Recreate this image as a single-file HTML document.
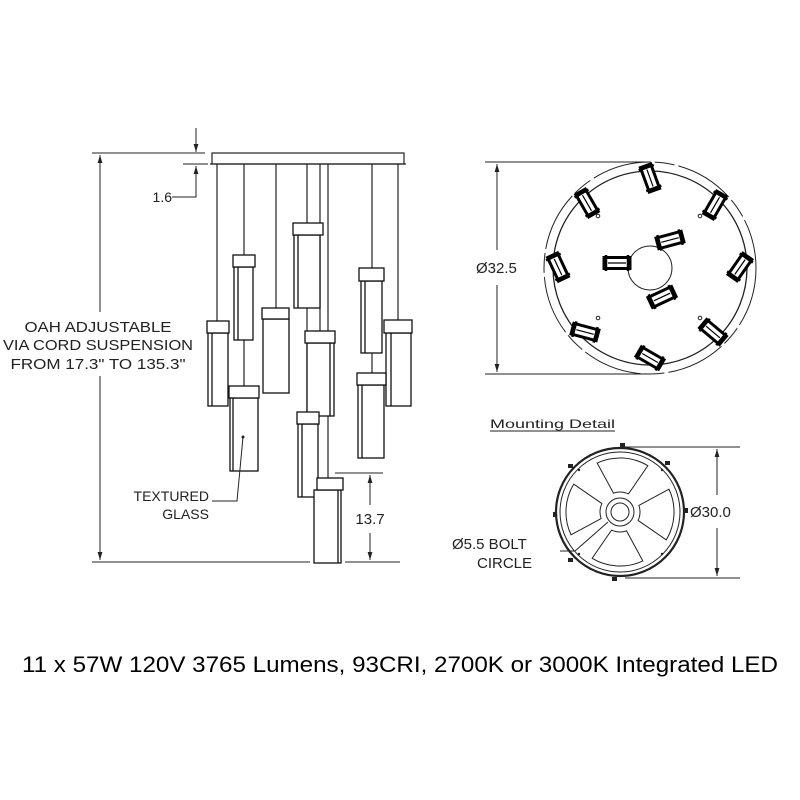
<!DOCTYPE html>
<html><head><meta charset="utf-8"><style>
html,body{margin:0;padding:0;background:#fff}
svg{display:block}
text{font-family:"Liberation Sans",sans-serif;fill:#222}
</style></head><body>
<svg width="800" height="800" viewBox="0 0 800 800" xmlns="http://www.w3.org/2000/svg">
<defs>
<marker id="a" viewBox="0 0 10 10" refX="10" refY="5" markerWidth="8" markerHeight="8" orient="auto-start-reverse"><path d="M0,2 L10,5 L0,8 z" fill="#222"/></marker>
<g id="fx"><rect x="-13" y="-5.5" width="26" height="11" fill="#fff" stroke="#000" stroke-width="3"/><line x1="-9" y1="0" x2="9" y2="0" stroke="#000" stroke-width="1.2"/><line x1="-11" y1="-8" x2="-11" y2="8" stroke="#000" stroke-width="2.5"/><line x1="11" y1="-8" x2="11" y2="8" stroke="#000" stroke-width="2.5"/></g>
<path id="bl" d="M612.5,493.5 L594.6,464.3 A54,54 0 0 1 645.4,464.3 L627.5,493.5 A20,20 0 0 0 612.5,493.5 z"/>
</defs>
<g stroke="#222" fill="none" stroke-width="1.2">
<rect x="212" y="153" width="192" height="11" fill="#fff"/>
<line x1="210" y1="164" x2="406" y2="164"/>
<line x1="217" y1="164" x2="217" y2="321"/>
<line x1="244" y1="164" x2="244" y2="386"/>
<line x1="276" y1="164" x2="276" y2="308"/>
<line x1="307" y1="164" x2="307" y2="412"/>
<line x1="320" y1="164" x2="320" y2="331"/>
<line x1="328" y1="164" x2="328" y2="478"/>
<line x1="372" y1="164" x2="372" y2="373"/>
<line x1="398" y1="164" x2="398" y2="320"/>
</g>
<g stroke="#111" fill="#fff" stroke-width="1.3">
<rect x="294" y="235" width="26" height="73"/><rect x="293" y="223" width="30" height="12"/><line x1="298" y1="235" x2="298" y2="308"/>
<rect x="234" y="267" width="19" height="73"/><rect x="233" y="255" width="22" height="12"/><line x1="238" y1="267" x2="238" y2="340"/>
<rect x="361" y="281" width="21" height="72"/><rect x="359" y="268" width="25" height="13"/><line x1="365" y1="281" x2="365" y2="353"/>
<rect x="208" y="333" width="20" height="73"/><rect x="207" y="321" width="22" height="12"/><line x1="212" y1="333" x2="212" y2="406"/>
<rect x="263" y="319" width="26" height="74"/><rect x="262" y="308" width="27" height="11"/>
<rect x="386" y="333" width="25" height="73"/><rect x="384" y="320" width="28" height="13"/><line x1="391" y1="333" x2="391" y2="406"/>
<rect x="307" y="343" width="27" height="73"/><rect x="305" y="331" width="30" height="12"/><line x1="330" y1="343" x2="330" y2="416"/>
<rect x="358" y="385" width="26" height="73"/><rect x="357" y="373" width="29" height="12"/><line x1="362" y1="385" x2="362" y2="458"/>
<rect x="230" y="398" width="28" height="73"/><rect x="229" y="386" width="30" height="12"/><line x1="233" y1="398" x2="233" y2="471"/>
<rect x="298" y="424" width="20" height="73"/><rect x="297" y="412" width="22" height="12"/><line x1="302" y1="424" x2="302" y2="497"/>
<rect x="314" y="490" width="27" height="73"/><rect x="317" y="478" width="26" height="12"/><line x1="338" y1="490" x2="338" y2="563"/>
</g>
<g stroke="#222" fill="none" stroke-width="1">
<line x1="92" y1="153" x2="205" y2="153"/>
<line x1="92" y1="562" x2="310" y2="562"/><line x1="345" y1="562" x2="400" y2="562"/>
<line x1="100" y1="155" x2="100" y2="312" marker-start="url(#a)"/>
<line x1="100" y1="376" x2="100" y2="560" marker-end="url(#a)"/>
<line x1="183" y1="164" x2="208" y2="164"/>
<line x1="196" y1="128" x2="196" y2="152" marker-end="url(#a)"/>
<line x1="196" y1="182" x2="196" y2="166" marker-end="url(#a)"/>
<polyline points="172,197 196,197 196,182"/>
<line x1="335" y1="473" x2="383" y2="473"/>
<line x1="370" y1="505" x2="370" y2="475" marker-end="url(#a)"/>
<line x1="370" y1="533" x2="370" y2="560" marker-end="url(#a)"/>
<polyline points="243,437 237,501 212,501"/>
<circle cx="243" cy="437" r="1" fill="#222"/>
</g>
<text x="172" y="202" font-size="14" text-anchor="end">1.6</text>
<text x="370" y="524" font-size="15" text-anchor="middle">13.7</text>
<text x="98" y="332" font-size="15" text-anchor="middle" textLength="147" lengthAdjust="spacingAndGlyphs">OAH ADJUSTABLE</text>
<text x="98" y="350" font-size="15" text-anchor="middle" textLength="190" lengthAdjust="spacingAndGlyphs">VIA CORD SUSPENSION</text>
<text x="98" y="369" font-size="15" text-anchor="middle" textLength="175" lengthAdjust="spacingAndGlyphs">FROM 17.3" TO 135.3"</text>
<text x="209" y="501" font-size="14" text-anchor="end">TEXTURED</text>
<text x="209" y="519" font-size="14" text-anchor="end">GLASS</text>

<g stroke="#222" fill="none" stroke-width="1">
<circle cx="650" cy="268" r="106" stroke-dasharray="60,4,20,4"/>
<circle cx="650" cy="268" r="97" stroke-width="1.3"/>
<circle cx="650" cy="268" r="22"/>
<line x1="485" y1="162" x2="650" y2="162"/>
<line x1="485" y1="374" x2="650" y2="374"/>
<line x1="497" y1="250" x2="497" y2="164" marker-end="url(#a)"/>
<line x1="497" y1="285" x2="497" y2="372" marker-end="url(#a)"/>
<circle cx="598" cy="216" r="1.8"/><circle cx="700" cy="216" r="1.8"/>
<circle cx="598" cy="318" r="1.8"/><circle cx="700" cy="318" r="1.8"/>
</g>
<text x="476" y="273" font-size="15">Ø32.5</text>
<use href="#fx" transform="translate(650,178) rotate(70)"/>
<use href="#fx" transform="translate(587,203) rotate(60)"/>
<use href="#fx" transform="translate(715,205) rotate(-60)"/>
<use href="#fx" transform="translate(558,267) rotate(65)"/>
<use href="#fx" transform="translate(740,267) rotate(-55)"/>
<use href="#fx" transform="translate(617,263) rotate(0)"/>
<use href="#fx" transform="translate(670,240) rotate(-15)"/>
<use href="#fx" transform="translate(662,297) rotate(-25)"/>
<use href="#fx" transform="translate(585,332) rotate(15)"/>
<use href="#fx" transform="translate(713,332) rotate(40)"/>
<use href="#fx" transform="translate(650,358) rotate(30)"/>

<text x="490" y="428" font-size="12" textLength="125" lengthAdjust="spacingAndGlyphs">Mounting  Detail</text>
<line x1="490" y1="431" x2="615" y2="431" stroke="#222" stroke-width="1"/>
<g stroke="#222" fill="none" stroke-width="1">
<circle cx="620" cy="512" r="64" stroke-width="2.2"/>
<circle cx="620" cy="512" r="60"/>
<circle cx="620" cy="512" r="14"/>
<circle cx="620" cy="512" r="9"/>
<use href="#bl" transform="rotate(3 620 512)"/>
<use href="#bl" transform="rotate(93 620 512)"/>
<use href="#bl" transform="rotate(183 620 512)"/>
<use href="#bl" transform="rotate(273 620 512)"/>
<line x1="625" y1="447" x2="740" y2="447"/>
<line x1="625" y1="578" x2="740" y2="578"/>
<line x1="717" y1="495" x2="717" y2="449" marker-end="url(#a)"/>
<line x1="717" y1="528" x2="717" y2="576" marker-end="url(#a)"/>
<line x1="560" y1="551" x2="575" y2="551"/>
<line x1="575" y1="551" x2="608" y2="522"/>
</g>
<g fill="#222">
<circle cx="579" cy="470" r="1.2"/><circle cx="662" cy="470" r="1.2"/><circle cx="579" cy="554" r="1.2"/><circle cx="662" cy="554" r="1.2"/>
<rect x="620" y="443" width="5" height="4"/><rect x="665" y="461" width="5" height="4"/><rect x="568" y="464" width="5" height="4"/><rect x="553" y="512" width="4" height="5"/><rect x="684" y="508" width="4" height="5"/><rect x="568" y="558" width="5" height="4"/><rect x="612" y="577" width="5" height="4"/>
</g>
<text x="690" y="517" font-size="15">Ø30.0</text>
<text x="452" y="549" font-size="15">Ø5.5 BOLT</text>
<text x="477" y="568" font-size="15">CIRCLE</text>

<text x="400" y="672" font-size="22" text-anchor="middle" textLength="756" lengthAdjust="spacingAndGlyphs" style="fill:#000">11 x 57W 120V 3765 Lumens, 93CRI, 2700K or 3000K Integrated LED</text>
</svg>
</body></html>
